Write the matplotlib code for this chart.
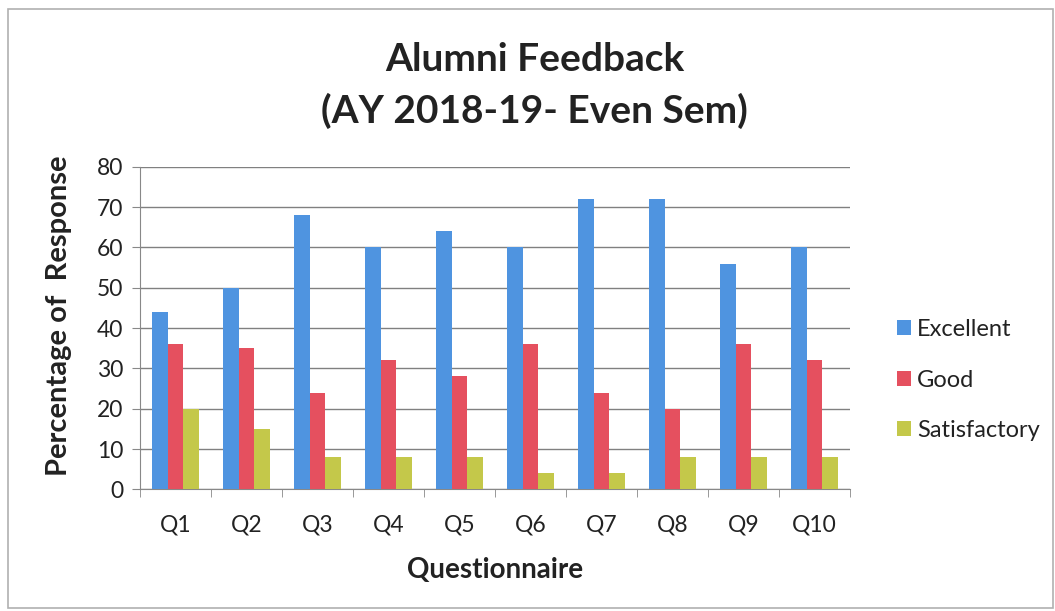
import matplotlib
matplotlib.use("Agg")
import matplotlib.pyplot as plt
import numpy as np
from matplotlib.patches import Rectangle

categories = ["Q1", "Q2", "Q3", "Q4", "Q5", "Q6", "Q7", "Q8", "Q9", "Q10"]
excellent = [44, 50, 68, 60, 64, 60, 72, 72, 56, 60]
good = [36, 35, 24, 32, 28, 36, 24, 20, 36, 32]
satisfactory = [20, 15, 8, 8, 8, 4, 4, 8, 8, 8]
series_names = ["Excellent", "Good", "Satisfactory"]
colors = ["#4F94E0", "#E5505F", "#C4C84A"]

plt.rcParams['font.family'] = ['Lato', 'DejaVu Sans']

fig = plt.figure(figsize=(10.55, 6.11), dpi=100)
fig.patch.set_facecolor("white")
fig.patches.append(Rectangle((0.008, 0.005), 0.99, 0.98, transform=fig.transFigure,
                             fill=False, edgecolor="#B0B0B0", linewidth=1.2))

ax = fig.add_axes([0.1327, 0.199, 0.673, 0.528])
x = np.arange(len(categories))
w = 0.217
for i, (vals, name, c) in enumerate(zip([excellent, good, satisfactory], series_names, colors)):
    ax.bar(x + (i - 1) * w, vals, width=w, color=c, label=name, zorder=3)

ax.set_xlim(-0.5, len(categories) - 0.5)
ax.set_ylim(0, 80)
ax.set_yticks(range(0, 81, 10))
ax.set_xticks(x)
ax.set_xticklabels(categories)
ax.set_xticks(np.arange(-0.5, len(categories)), minor=True)
ax.tick_params(axis='x', which='major', length=0, labelsize=16.5, pad=18, colors="#222222")
ax.tick_params(axis='x', which='minor', length=6, direction='out', color="#888888")
ax.tick_params(axis='y', length=6, direction='out', color="#888888", labelsize=16.5, pad=6,
               labelcolor="#222222")
ax.grid(axis='y', color="#808080", linewidth=1.0, zorder=0)
for s in ["top", "right"]:
    ax.spines[s].set_visible(False)
ax.spines["left"].set_color("#888888")
ax.spines["bottom"].set_color("#888888")

ax.set_ylabel("Percentage of  Response", fontsize=21, fontweight="bold", color="#222222")
ax.set_xlabel("Questionnaire", fontsize=20, fontweight="bold", color="#222222")
ax.yaxis.set_label_coords(-0.096, 0.537)
ax.xaxis.set_label_coords(0.5, -0.208)

fig.text(0.507, 0.902, "Alumni Feedback", ha="center", va="center", fontsize=28,
         fontweight="bold", color="#222222")
fig.text(0.507, 0.818, "(AY 2018-19- Even Sem)", ha="center", va="center", fontsize=28,
         fontweight="bold", color="#222222")

leg = ax.legend(loc="center left", bbox_to_anchor=(1.066, 0.339), frameon=False,
                fontsize=17, handlelength=0.6, handleheight=0.6, handletextpad=0.25,
                labelspacing=1.25, borderpad=0, borderaxespad=0)
for t in leg.get_texts():
    t.set_color("#222222")

fig.savefig("out.png", dpi=100)
